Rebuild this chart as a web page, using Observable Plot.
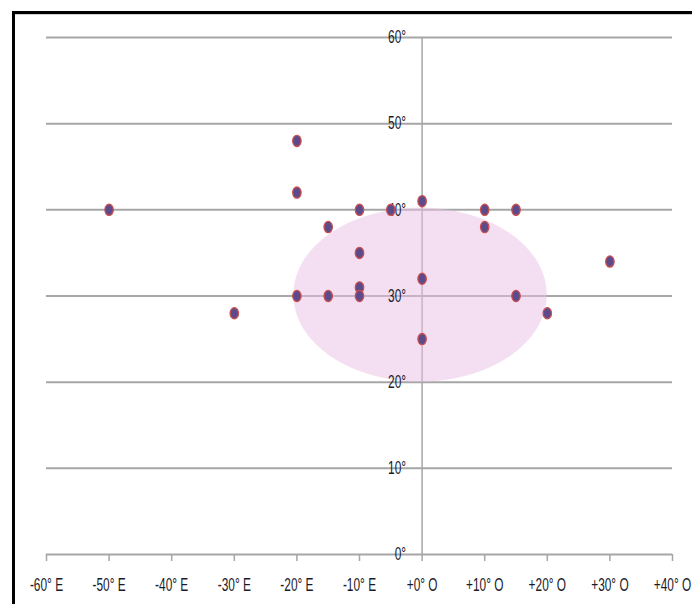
<!DOCTYPE html>
<html>
<head>
<meta charset="utf-8">
<script src="https://cdn.jsdelivr.net/npm/d3@7"></script>
<script src="https://cdn.jsdelivr.net/npm/@observablehq/plot@0.6"></script>
<style>
  html, body { margin: 0; padding: 0; background: #fff; }
  #wrap { position: relative; width: 692px; height: 604px; overflow: hidden; }
  #frame { position: absolute; left: 12px; top: 11px; width: 700px; height: 620px;
           border-top: 3px solid #000; border-left: 3px solid #000; box-sizing: border-box; }
  #frame-inner { position: absolute; left: 0; top: 0; width: 100%; border-top: 1px solid #d2d2d2; }
  #chart { position: absolute; left: 0; top: 0; }
</style>
</head>
<body>
<div id="wrap">
  <div id="chart"></div>
  <div id="frame"><div id="frame-inner"></div></div>
</div>
<script>
// Tick values and labels
const xTicks = [-60, -50, -40, -30, -20, -10, 0, 10, 20, 30, 40];
const xTickLabels = ["-60° E", "-50° E", "-40° E", "-30° E", "-20° E", "-10° E", "+0° O", "+10° O", "+20° O", "+30° O", "+40° O"];
const yTicks = [0, 10, 20, 30, 40, 50, 60];
const yTickLabels = ["0°", "10°", "20°", "30°", "40°", "50°", "60°"];

// Points: longitude (E negative, O positive) and latitude
const lon = [-50, -30, -20, -20, -20, -15, -15, -10, -10, -10, -10, -5, 0, 0, 0, 10, 10, 15, 15, 20, 30];
const lat = [40, 28, 48, 42, 30, 38, 30, 40, 35, 31, 30, 40, 41, 32, 25, 40, 38, 40, 30, 28, 34];

// Highlighted zone (ellipse bounding box)
const zoneLon = [-20.5, 20];
const zoneLat = [20, 40.2];

const points = lon.map((x, i) => ({x, y: lat[i]}));
const zone = [{x1: zoneLon[0], x2: zoneLon[1], y1: zoneLat[0], y2: zoneLat[1]}];

// elliptical marker symbol (slightly taller than wide)
const ellipseSymbol = {
  draw(ctx, size) {
    const rx = 4.2, ry = 5.6, k = 0.5523;
    ctx.moveTo(rx, 0);
    ctx.bezierCurveTo(rx, k * ry, k * rx, ry, 0, ry);
    ctx.bezierCurveTo(-k * rx, ry, -rx, k * ry, -rx, 0);
    ctx.bezierCurveTo(-rx, -k * ry, -k * rx, -ry, 0, -ry);
    ctx.bezierCurveTo(k * rx, -ry, rx, -k * ry, rx, 0);
    ctx.closePath();
  }
};

const font = "'Liberation Sans', Arial, sans-serif";

const chart = Plot.plot({
  width: 692,
  height: 604,
  marginLeft: 46,
  marginRight: 20,
  marginTop: 37,
  marginBottom: 50,
  style: {fontFamily: font, background: "transparent"},
  x: {domain: [-60, 40]},
  y: {domain: [0, 60], axis: null},
  marks: [
    Plot.ruleY(yTicks, {stroke: "#a6a6a6", strokeWidth: 2}),
    Plot.ruleX([0], {y1: 0, y2: 60, stroke: "#a6a6a6", strokeWidth: 1.5}),
    Plot.rect(zone, {x1: "x1", x2: "x2", y1: "y1", y2: "y2", fill: "#e7bfe4", fillOpacity: 0.5, rx: 1000, ry: 1000}),
    Plot.axisX(xTicks, {
      tickSize: 7, tickPadding: 17, stroke: "#a6a6a6", strokeWidth: 1.5,
      fill: "#1a1a2a", fontSize: 18,
      tickFormat: d => xTickLabels[xTicks.indexOf(d)], label: null
    }),
    Plot.text(yTicks, {
      x: 0, y: d => d, text: (d, i) => yTickLabels[i],
      textAnchor: "end", dx: -16, fontSize: 18, fill: "#1a1a2a"
    }),
    Plot.dot(points, {x: "x", y: "y", symbol: ellipseSymbol, r: 4, fill: "#5d4a8a", stroke: "#c9504f", strokeWidth: 1.3})
  ]
});
document.getElementById("chart").appendChild(chart);

// emulate the tall, narrow lettering of the original
chart.querySelectorAll("text").forEach(t => {
  const w = t.getComputedTextLength();
  if (w > 0) {
    t.setAttribute("textLength", (w * 0.66).toFixed(1));
    t.setAttribute("lengthAdjust", "spacingAndGlyphs");
  }
});
</script>
</body>
</html>
